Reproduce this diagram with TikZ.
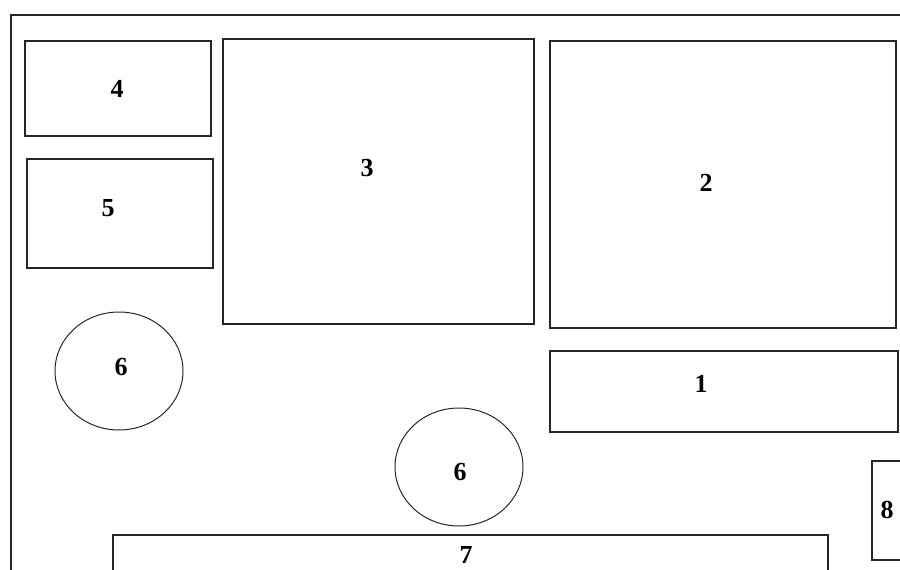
\documentclass[tikz,border=0pt]{standalone}
\usepackage{fontspec}
\setmainfont{Liberation Serif}
\usetikzlibrary{shapes.geometric}
\begin{document}
\begin{tikzpicture}[x=1pt, y=-1pt,
  line width=1.2pt, draw=black!85,
  area/.style={draw, rectangle, inner sep=0pt, outer sep=0pt},
  pool/.style={draw, ellipse, line width=1pt, inner sep=0pt, minimum width=128pt, minimum height=118pt},
  num/.style={font=\fontsize{26}{28}\selectfont\bfseries, inner sep=0pt}]
  \clip (0,0) rectangle (900,570);
  \fill[white] (0,0) rectangle (900,570);
  % outer boundary, running off the right and bottom edges
  \node[area, minimum width=920pt, minimum height=600pt] (frame) at (471,315) {};
  % rooms
  \node[area, minimum width=186pt, minimum height=95pt]  (b4) at (118,88.5) {};
  \node[area, minimum width=186pt, minimum height=109pt] (b5) at (120,213.5) {};
  \node[area, minimum width=311pt, minimum height=285pt] (b3) at (378.5,181.5) {};
  \node[area, minimum width=346pt, minimum height=287pt] (b2) at (723,184.5) {};
  \node[area, minimum width=348pt, minimum height=81pt]  (b1) at (724,391.5) {};
  \node[area, minimum width=715pt, minimum height=44pt]  (b7) at (470.5,557) {};
  \node[area, minimum width=30pt, minimum height=99pt]   (b8) at (887,510.5) {};
  % round features
  \node[pool] (c6a) at (119,371) {};
  \node[pool] (c6b) at (459,467) {};
  % labels
  \node[num] (t4) at (117,89) {4};
  \node[num] (t5) at (108,208) {5};
  \node[num] (t3) at (367,168) {3};
  \node[num] (t2) at (706,183) {2};
  \node[num] (t1) at (701,384) {1};
  \node[num] (t6a) at (121,367) {6};
  \node[num] (t6b) at (460,472) {6};
  \node[num] (t7) at (466,555) {7};
  \node[num] (t8) at (887,510) {8};
\end{tikzpicture}
\end{document}
